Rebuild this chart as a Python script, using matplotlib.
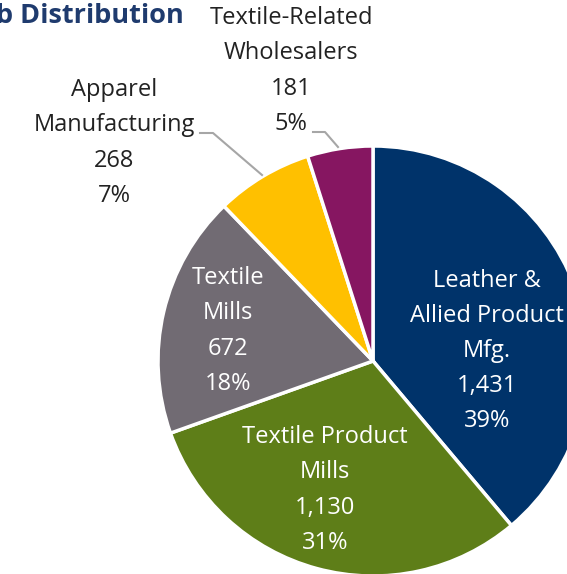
import matplotlib.pyplot as plt

# Job counts by industry segment
segments = ["Leather &\nAllied Product\nMfg.", "Textile Product\nMills", "Textile\nMills",
            "Apparel\nManufacturing", "Textile-Related\nWholesalers"]
jobs = [1431, 1130, 672, 268, 181]
colors = ["#00336A", "#5E7E18", "#716B73", "#FFC000", "#861661"]

total = sum(jobs)
W, H = 567, 574

plt.rcParams['font.family'] = ['Open Sans', 'DejaVu Sans']

fig = plt.figure(figsize=(W / 100, H / 100), dpi=100)
ax = fig.add_axes([0, 0, 1, 1])

ax.pie(jobs, colors=colors, startangle=90, counterclock=False,
       center=(373, H - 361), radius=215, frame=True,
       wedgeprops=dict(edgecolor='white', linewidth=2.5))
ax.set_xlim(0, W)
ax.set_ylim(0, H)
ax.set_aspect('equal')
ax.axis('off')

# label anchor points (pixels from top-left) and text colour
label_pos = [(487, 351), (325, 490), (228, 331), (114, 143), (291, 71)]
label_col = ["white", "white", "white", "#222222", "#222222"]

for name, n, (x, y), c in zip(segments, jobs, label_pos, label_col):
    pct = round(n / total * 100)
    ax.text(x, H - y, f"{name}\n{n:,}\n{pct}%", ha='center', va='center',
            fontsize=17, color=c, linespacing=1.62)

# leader lines for the two small slices
ax.plot([200, 213, 262], [H - 133, H - 133, H - 175], color="#A6A6A6", lw=1.5)
ax.plot([313, 325, 338], [H - 132, H - 132, H - 147], color="#A6A6A6", lw=1.5)

ax.text(185, H - 16, "Job Distribution", ha='right', va='center',
        fontsize=19.5, fontweight='bold', color="#1F3B6E")

fig.savefig("out.png", dpi=100)
